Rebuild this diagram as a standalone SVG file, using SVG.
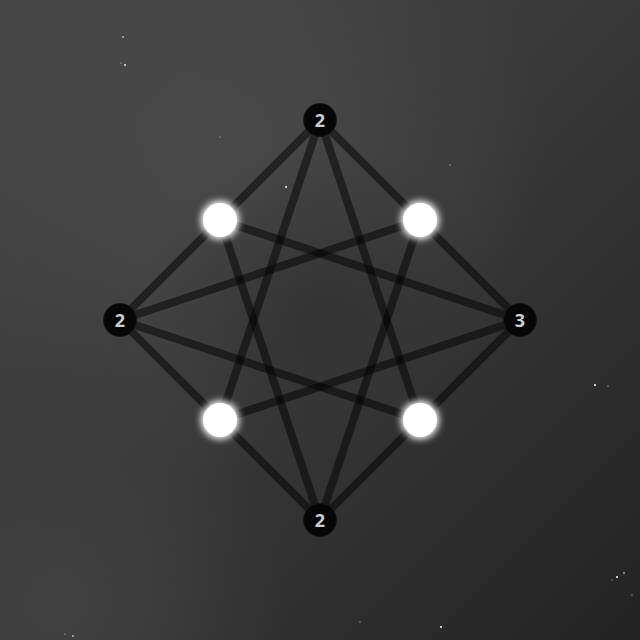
<svg xmlns="http://www.w3.org/2000/svg" width="640" height="640" viewBox="0 0 640 640">
<defs>
<linearGradient id="bg" x1="0" y1="0" x2="1" y2="1">
<stop offset="0" stop-color="#464646"/>
<stop offset="0.5" stop-color="#383838"/>
<stop offset="1" stop-color="#232323"/>
</linearGradient>
<radialGradient id="haze1" cx="0.35" cy="0.25" r="0.5">
<stop offset="0" stop-color="#4c4c4c" stop-opacity="0.8"/>
<stop offset="1" stop-color="#4c4c4c" stop-opacity="0"/>
</radialGradient>
<radialGradient id="haze2" cx="0.1" cy="0.95" r="0.35">
<stop offset="0" stop-color="#444" stop-opacity="0.8"/>
<stop offset="1" stop-color="#444" stop-opacity="0"/>
</radialGradient>
<radialGradient id="centre" cx="0.5" cy="0.5" r="0.5">
<stop offset="0" stop-color="#2e2e2e" stop-opacity="0.7"/>
<stop offset="1" stop-color="#2e2e2e" stop-opacity="0"/>
</radialGradient>
<filter id="glow" x="-80%" y="-80%" width="260%" height="260%">
<feGaussianBlur stdDeviation="4" result="b"/>
<feMerge><feMergeNode in="b"/><feMergeNode in="b"/><feMergeNode in="SourceGraphic"/></feMerge>
</filter>
</defs>
<style>
.edge{stroke:#000;stroke-opacity:0.5;stroke-width:8;stroke-linecap:butt;fill:none}
.dark{fill:#050505;stroke:#151515;stroke-width:1}
.lit{fill:#fff}
.lbl{font-family:"Open Sans","Liberation Sans",sans-serif;font-size:18px;font-weight:bold;fill:#cfcfcf;text-anchor:middle;dominant-baseline:central}
.star{fill:#fff}
</style>
<rect width="640" height="640" fill="url(#bg)"/>
<rect width="640" height="640" fill="url(#haze1)"/>
<rect width="640" height="640" fill="url(#haze2)"/>
<circle cx="320" cy="320" r="180" fill="url(#centre)"/>
<g id="stars">
<circle class="star" cx="123" cy="37" r="0.8"/>
<circle class="star" cx="125" cy="65" r="0.9"/>
<circle class="star" cx="121" cy="63" r="0.5"/>
<circle class="star" cx="220" cy="137" r="0.5"/>
<circle class="star" cx="286" cy="187" r="1"/>
<circle class="star" cx="450" cy="165" r="0.5"/>
<circle class="star" cx="595" cy="385" r="1"/>
<circle class="star" cx="608" cy="386" r="0.5"/>
<circle class="star" cx="617" cy="577" r="1"/>
<circle class="star" cx="624" cy="573" r="0.8"/>
<circle class="star" cx="612" cy="580" r="0.5"/>
<circle class="star" cx="632" cy="595" r="0.5"/>
<circle class="star" cx="441" cy="627" r="1"/>
<circle class="star" cx="73" cy="636" r="0.8"/>
<circle class="star" cx="65" cy="634" r="0.5"/>
<circle class="star" cx="360" cy="622" r="0.5"/>
</g>
<g id="connectors">
<line class="edge" x1="320" y1="120" x2="220" y2="220"/>
<line class="edge" x1="320" y1="120" x2="420" y2="220"/>
<line class="edge" x1="320" y1="120" x2="220" y2="420"/>
<line class="edge" x1="320" y1="120" x2="420" y2="420"/>
<line class="edge" x1="120" y1="320" x2="220" y2="220"/>
<line class="edge" x1="120" y1="320" x2="420" y2="220"/>
<line class="edge" x1="120" y1="320" x2="220" y2="420"/>
<line class="edge" x1="120" y1="320" x2="420" y2="420"/>
<line class="edge" x1="520" y1="320" x2="220" y2="220"/>
<line class="edge" x1="520" y1="320" x2="420" y2="220"/>
<line class="edge" x1="520" y1="320" x2="220" y2="420"/>
<line class="edge" x1="520" y1="320" x2="420" y2="420"/>
<line class="edge" x1="320" y1="520" x2="220" y2="220"/>
<line class="edge" x1="320" y1="520" x2="420" y2="220"/>
<line class="edge" x1="320" y1="520" x2="220" y2="420"/>
<line class="edge" x1="320" y1="520" x2="420" y2="420"/>
</g>
<g id="n-top"><circle class="dark" cx="320" cy="120" r="16.5"/><text class="lbl" x="320" y="120">2</text></g>
<g id="n-left"><circle class="dark" cx="120" cy="320" r="16.5"/><text class="lbl" x="120" y="320">2</text></g>
<g id="n-right"><circle class="dark" cx="520" cy="320" r="16.5"/><text class="lbl" x="520" y="320">3</text></g>
<g id="n-bottom"><circle class="dark" cx="320" cy="520" r="16.5"/><text class="lbl" x="320" y="520">2</text></g>
<g id="w-tl"><circle class="lit" cx="220" cy="220" r="17" filter="url(#glow)"/></g>
<g id="w-tr"><circle class="lit" cx="420" cy="220" r="17" filter="url(#glow)"/></g>
<g id="w-bl"><circle class="lit" cx="220" cy="420" r="17" filter="url(#glow)"/></g>
<g id="w-br"><circle class="lit" cx="420" cy="420" r="17" filter="url(#glow)"/></g>
</svg>
